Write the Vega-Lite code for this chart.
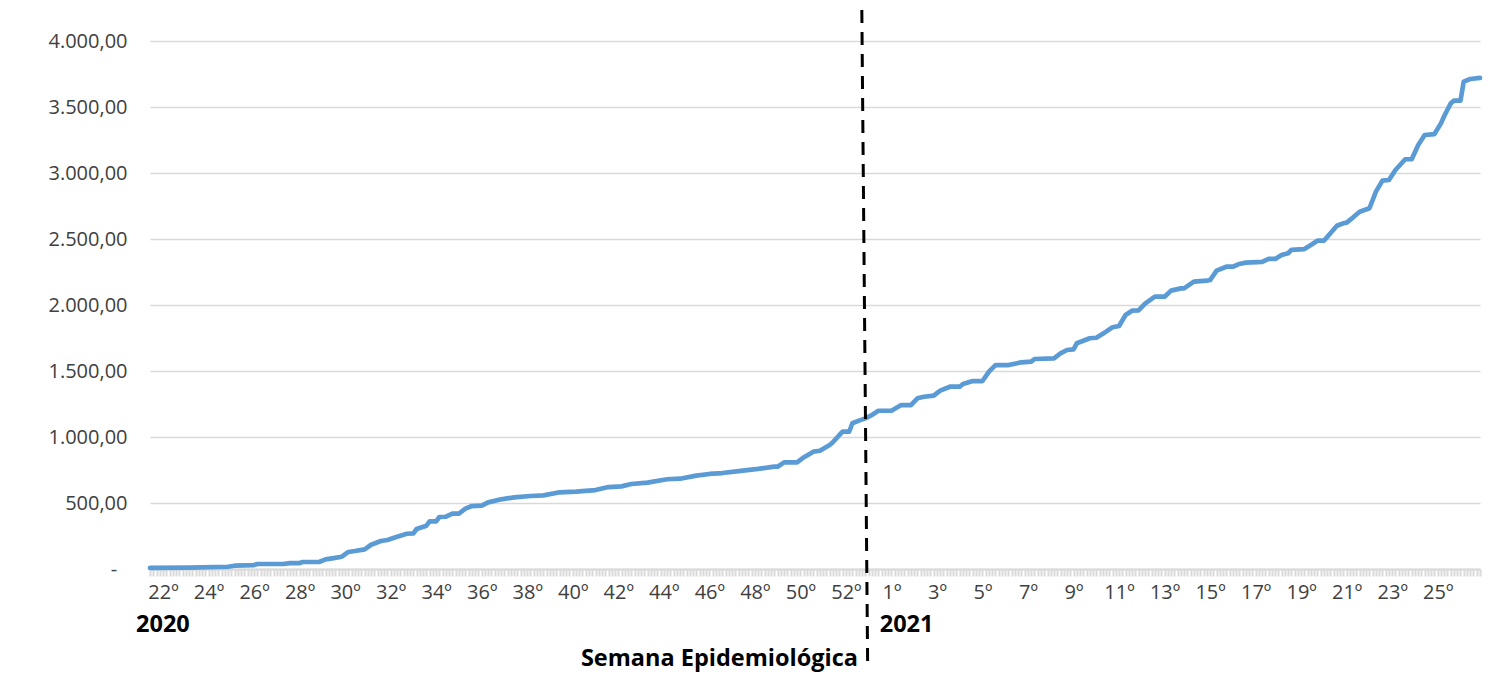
{
  "$schema": "https://vega.github.io/schema/vega-lite/v6.json",
  "width": 1330,
  "height": 528,
  "autosize": {"type": "none"},
  "padding": {"left": 150, "top": 41, "right": 25, "bottom": 117},
  "background": "white",
  "config": {
    "view": {"stroke": null},
    "font": "Open Sans"
  },
  "datasets": {
    "serie": [
      {"dia": 0, "valor": 8}, {"dia": 12, "valor": 10}, {"dia": 24, "valor": 17}, {"dia": 26, "valor": 25},
      {"dia": 32, "valor": 30}, {"dia": 33, "valor": 38}, {"dia": 41, "valor": 38}, {"dia": 43, "valor": 45},
      {"dia": 46, "valor": 45}, {"dia": 47, "valor": 53}, {"dia": 52, "valor": 53}, {"dia": 54, "valor": 73},
      {"dia": 56, "valor": 81}, {"dia": 59, "valor": 93}, {"dia": 61, "valor": 129}, {"dia": 63, "valor": 136},
      {"dia": 66, "valor": 149}, {"dia": 68, "valor": 184}, {"dia": 71, "valor": 212}, {"dia": 73, "valor": 220},
      {"dia": 76, "valor": 245}, {"dia": 79, "valor": 267}, {"dia": 81, "valor": 270}, {"dia": 82, "valor": 303},
      {"dia": 85, "valor": 328}, {"dia": 86, "valor": 361}, {"dia": 88, "valor": 361}, {"dia": 89, "valor": 394},
      {"dia": 91, "valor": 396}, {"dia": 93, "valor": 419}, {"dia": 95, "valor": 419}, {"dia": 97, "valor": 457},
      {"dia": 99, "valor": 477}, {"dia": 102, "valor": 480}, {"dia": 104, "valor": 505}, {"dia": 108, "valor": 528},
      {"dia": 112, "valor": 543}, {"dia": 117, "valor": 553}, {"dia": 121, "valor": 558}, {"dia": 126, "valor": 581},
      {"dia": 131, "valor": 586}, {"dia": 137, "valor": 598}, {"dia": 141, "valor": 621}, {"dia": 145, "valor": 626},
      {"dia": 148, "valor": 644}, {"dia": 153, "valor": 654}, {"dia": 159, "valor": 680}, {"dia": 163, "valor": 684},
      {"dia": 168, "valor": 707}, {"dia": 172, "valor": 720}, {"dia": 176, "valor": 727}, {"dia": 181, "valor": 742},
      {"dia": 187, "valor": 758}, {"dia": 192, "valor": 775}, {"dia": 193, "valor": 775}, {"dia": 195, "valor": 808},
      {"dia": 199, "valor": 808}, {"dia": 201, "valor": 845}, {"dia": 204, "valor": 889}, {"dia": 206, "valor": 896},
      {"dia": 209, "valor": 939}, {"dia": 210, "valor": 960}, {"dia": 212, "valor": 1015}, {"dia": 213, "valor": 1040},
      {"dia": 215, "valor": 1040}, {"dia": 216, "valor": 1104}, {"dia": 218, "valor": 1124}, {"dia": 220, "valor": 1141},
      {"dia": 222, "valor": 1167}, {"dia": 224, "valor": 1199}, {"dia": 228, "valor": 1199}, {"dia": 231, "valor": 1242},
      {"dia": 234, "valor": 1242}, {"dia": 236, "valor": 1293}, {"dia": 238, "valor": 1305}, {"dia": 241, "valor": 1313},
      {"dia": 243, "valor": 1351}, {"dia": 246, "valor": 1381}, {"dia": 249, "valor": 1381}, {"dia": 250, "valor": 1402},
      {"dia": 253, "valor": 1424}, {"dia": 256, "valor": 1424}, {"dia": 258, "valor": 1495}, {"dia": 260, "valor": 1545},
      {"dia": 264, "valor": 1545}, {"dia": 268, "valor": 1566}, {"dia": 271, "valor": 1571}, {"dia": 272, "valor": 1591},
      {"dia": 278, "valor": 1596}, {"dia": 280, "valor": 1634}, {"dia": 282, "valor": 1659}, {"dia": 284, "valor": 1664},
      {"dia": 285, "valor": 1710}, {"dia": 289, "valor": 1748}, {"dia": 291, "valor": 1752}, {"dia": 294, "valor": 1798},
      {"dia": 296, "valor": 1831}, {"dia": 298, "valor": 1841}, {"dia": 300, "valor": 1924}, {"dia": 302, "valor": 1957},
      {"dia": 304, "valor": 1960}, {"dia": 306, "valor": 2010}, {"dia": 309, "valor": 2063}, {"dia": 312, "valor": 2063},
      {"dia": 314, "valor": 2109}, {"dia": 317, "valor": 2126}, {"dia": 318, "valor": 2126}, {"dia": 321, "valor": 2177},
      {"dia": 325, "valor": 2184}, {"dia": 326, "valor": 2189}, {"dia": 328, "valor": 2260}, {"dia": 331, "valor": 2290},
      {"dia": 333, "valor": 2290}, {"dia": 335, "valor": 2311}, {"dia": 337, "valor": 2321}, {"dia": 342, "valor": 2326},
      {"dia": 344, "valor": 2349}, {"dia": 346, "valor": 2349}, {"dia": 348, "valor": 2379}, {"dia": 350, "valor": 2392},
      {"dia": 351, "valor": 2417}, {"dia": 355, "valor": 2424}, {"dia": 357, "valor": 2455}, {"dia": 359, "valor": 2487},
      {"dia": 361, "valor": 2487}, {"dia": 365, "valor": 2601}, {"dia": 367, "valor": 2619}, {"dia": 368, "valor": 2624},
      {"dia": 370, "valor": 2664}, {"dia": 372, "valor": 2707}, {"dia": 375, "valor": 2733}, {"dia": 377, "valor": 2859},
      {"dia": 379, "valor": 2942}, {"dia": 381, "valor": 2947}, {"dia": 383, "valor": 3023}, {"dia": 386, "valor": 3104},
      {"dia": 388, "valor": 3104}, {"dia": 390, "valor": 3212}, {"dia": 392, "valor": 3288}, {"dia": 395, "valor": 3295},
      {"dia": 397, "valor": 3376}, {"dia": 398, "valor": 3432}, {"dia": 400, "valor": 3528}, {"dia": 401, "valor": 3548},
      {"dia": 403, "valor": 3548}, {"dia": 404, "valor": 3692}, {"dia": 406, "valor": 3712}, {"dia": 409, "valor": 3720}
    ],
    "vazio": [{}]
  },
  "layer": [
    {
      "data": {"name": "serie"},
      "mark": {"type": "line", "color": "#5B9BD5", "strokeWidth": 4.7, "strokeJoin": "round", "strokeCap": "round"},
      "encoding": {
        "x": {
          "field": "dia", "type": "quantitative",
          "scale": {"domain": [0, 409], "nice": false, "zero": false},
          "axis": {
            "title": null,
            "grid": false,
            "tickCount": 410,
            "labelOverlap": false,
            "labelFlush": false,
            "labelBound": false,
            "labelExpr": "(datum.value >= 4 && (datum.value - 4) % 14 == 0) ? ((22 + (datum.value - 4) / 7 <= 53 ? 22 + (datum.value - 4) / 7 : (datum.value - 4) / 7 - 31) + 'º') : ''",
            "labelFont": "Open Sans",
            "labelFontSize": 20,
            "labelColor": "#404040",
            "labelPadding": 6,
            "domainColor": "#d9d9d9",
            "domainWidth": 2,
            "tickColor": "#d9d9d9",
            "tickWidth": 2,
            "tickSize": 7
          }
        },
        "y": {
          "field": "valor", "type": "quantitative",
          "scale": {"domain": [0, 4000], "nice": false},
          "axis": {
            "title": null,
            "values": [0, 500, 1000, 1500, 2000, 2500, 3000, 3500, 4000],
            "labelExpr": "datum.value == 0 ? '-\u00a0\u00a0\u200b' : replace(replace(replace(format(datum.value, ',.2f'), ',', '#'), '.', ','), '#', '.')",
            "labelFont": "Open Sans",
            "labelFontSize": 20,
            "labelColor": "#404040",
            "labelPadding": 23,
            "ticks": false,
            "tickSize": 0,
            "domain": false,
            "grid": true,
            "gridColor": "#d9d9d9",
            "gridWidth": 1.5
          }
        }
      }
    },
    {
      "data": {"name": "vazio"},
      "mark": {"type": "rule", "color": "black", "strokeWidth": 3, "strokeDash": [13, 9]},
      "encoding": {
        "x": {"datum": 218.9, "type": "quantitative"},
        "x2": {"datum": 220.7},
        "y": {"datum": 4235, "type": "quantitative"},
        "y2": {"datum": -750}
      }
    },
    {
      "data": {"name": "vazio"},
      "mark": {"type": "text", "text": "2020", "font": "Open Sans", "fontWeight": "bold", "fontSize": 23.5, "align": "left", "baseline": "alphabetic", "color": "black"},
      "encoding": {
        "x": {"datum": -4.3, "type": "quantitative"},
        "y": {"datum": -477, "type": "quantitative"}
      }
    },
    {
      "data": {"name": "vazio"},
      "mark": {"type": "text", "text": "2021", "font": "Open Sans", "fontWeight": "bold", "fontSize": 23.5, "align": "left", "baseline": "alphabetic", "color": "black"},
      "encoding": {
        "x": {"datum": 224.4, "type": "quantitative"},
        "y": {"datum": -477, "type": "quantitative"}
      }
    },
    {
      "data": {"name": "vazio"},
      "mark": {"type": "text", "text": "Semana Epidemiológica", "font": "Open Sans", "fontWeight": "bold", "fontSize": 23.5, "align": "right", "baseline": "alphabetic", "color": "black"},
      "encoding": {
        "x": {"datum": 217.7, "type": "quantitative"},
        "y": {"datum": -735, "type": "quantitative"}
      }
    }
  ]
}
